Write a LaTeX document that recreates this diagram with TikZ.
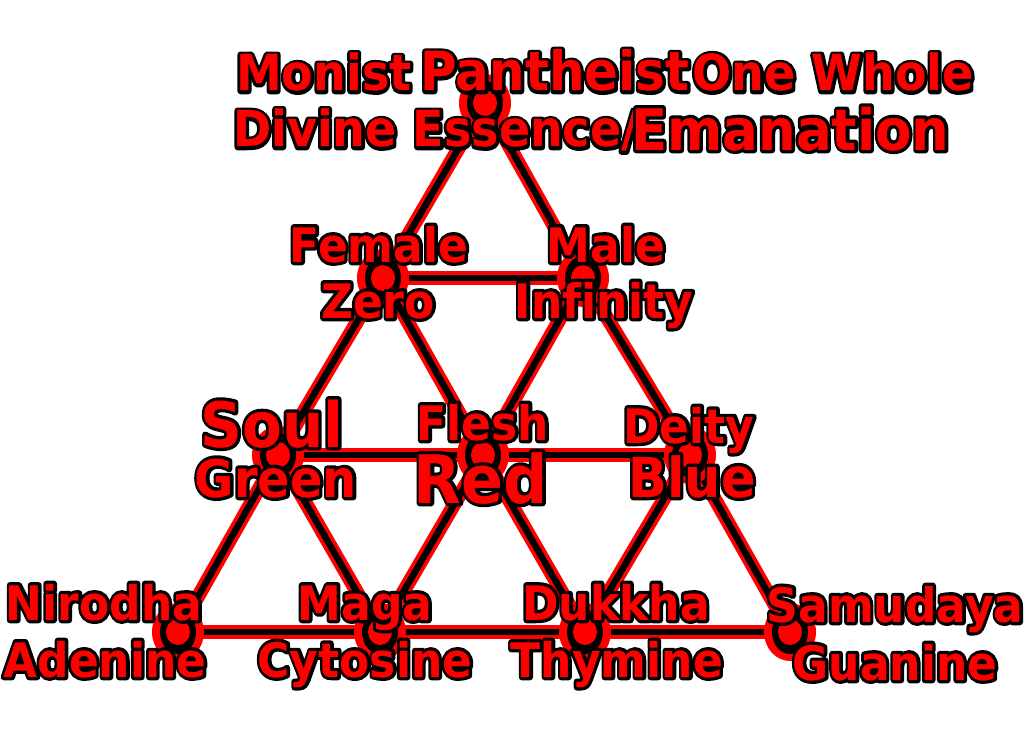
\documentclass[tikz,border=0pt]{standalone}
\usepackage{graphicx}
\usepackage{fontspec}
\setmainfont{DejaVu Sans}[Ligatures=NoCommon]
\newcommand\ot[1]{\leavevmode\scalebox{1}[1.08]{%
  \rlap{\color{black}\special{pdf:literal direct 2 Tr 6 w 1 j}#1\special{pdf:literal direct 0 Tr 1 w}}%
  {\color{red}#1}}}
\tikzset{
  lbl/.style={inner sep=0pt, anchor=base, font=\bfseries\fontsize{44}{44}\selectfont},
  big/.style={font=\bfseries\fontsize{#1}{#1}\selectfont},
  redline/.style={draw=red, line width=14pt},
  blackline/.style={draw=black, line width=6.5pt},
}
\begin{document}
\begin{tikzpicture}[x=1pt,y=-1pt]
\useasboundingbox (0,0) rectangle (1024,738);
\fill[white] (0,0) rectangle (1024,738);
% vertices
\coordinate (p1) at (485,103);
\coordinate (p2) at (383,278);
\coordinate (p3) at (583,278);
\coordinate (p4) at (278,455);
\coordinate (p5) at (483,455);
\coordinate (p6) at (690,455);
\coordinate (p7) at (178,632);
\coordinate (p8) at (380,632);
\coordinate (p9) at (585,632);
\coordinate (p10) at (790,632);
% connectors
\foreach \st in {redline,blackline}{
  \foreach \a/\b in {p1/p2,p1/p3,p2/p3,p2/p4,p2/p5,p3/p5,p3/p6,p4/p5,p5/p6,p4/p7,p4/p8,p5/p8,p5/p9,p6/p9,p6/p10,p7/p8,p8/p9,p9/p10}{
    \draw[\st] (\a) -- (\b);
  }
}
% dots
\foreach \p in {p1,p2,p3,p4,p5,p6,p7,p8,p9,p10}{
  \fill[red] (\p) ellipse (26 and 29);
  \fill[black] (\p) ellipse (18 and 22);
  \fill[red] (\p) ellipse (12 and 13);
}
% labels
\node[lbl, big=46, anchor=base west] (t1a) at (236,91) {\ot{Monist}};
\node[lbl, big=46, anchor=base east] (t1c) at (974,91) {\ot{One Whole}};
\node[lbl, big=50] (t1b) at (555,91) {\ot{Pantheist}};
\node[lbl, big=46, anchor=base west] (t2a) at (233,147) {\ot{Divine Essence/}};
\node[lbl, anchor=base west, big=53] (t2b) at (631,150) {\ot{Emanation}};

\node[lbl] (l2a) at (379,262) {\ot{Female}};
\node[lbl] (l2b) at (378,318) {\ot{Zero}};
\node[lbl] (l2c) at (606,262) {\ot{Male}};
\node[lbl] (l2d) at (604,318) {\ot{Infinity}};

\node[lbl, big=58] (l3a) at (272,447) {\ot{Soul}};
\node[lbl, big=48] (l3b) at (276,497) {\ot{Green}};
\node[lbl] (l3c) at (483,440) {\ot{Flesh}};
\node[lbl, big=62] (l3d) at (481,503) {\ot{Red}};
\node[lbl] (l3e) at (689,443) {\ot{Deity}};
\node[lbl, big=51] (l3f) at (692,497) {\ot{Blue}};

\node[lbl] (l4a) at (104,620) {\ot{Nirodha}};
\node[lbl] (l4b) at (105,677) {\ot{Adenine}};
\node[lbl] (l4c) at (365,620) {\ot{Maga}};
\node[lbl] (l4d) at (365,677) {\ot{Cytosine}};
\node[lbl] (l4e) at (616,620) {\ot{Dukkha}};
\node[lbl] (l4f) at (617,677) {\ot{Thymine}};
\node[lbl] (l4g) at (895,622) {\ot{Samudaya}};
\node[lbl] (l4h) at (895,680) {\ot{Guanine}};
\end{tikzpicture}
\end{document}
